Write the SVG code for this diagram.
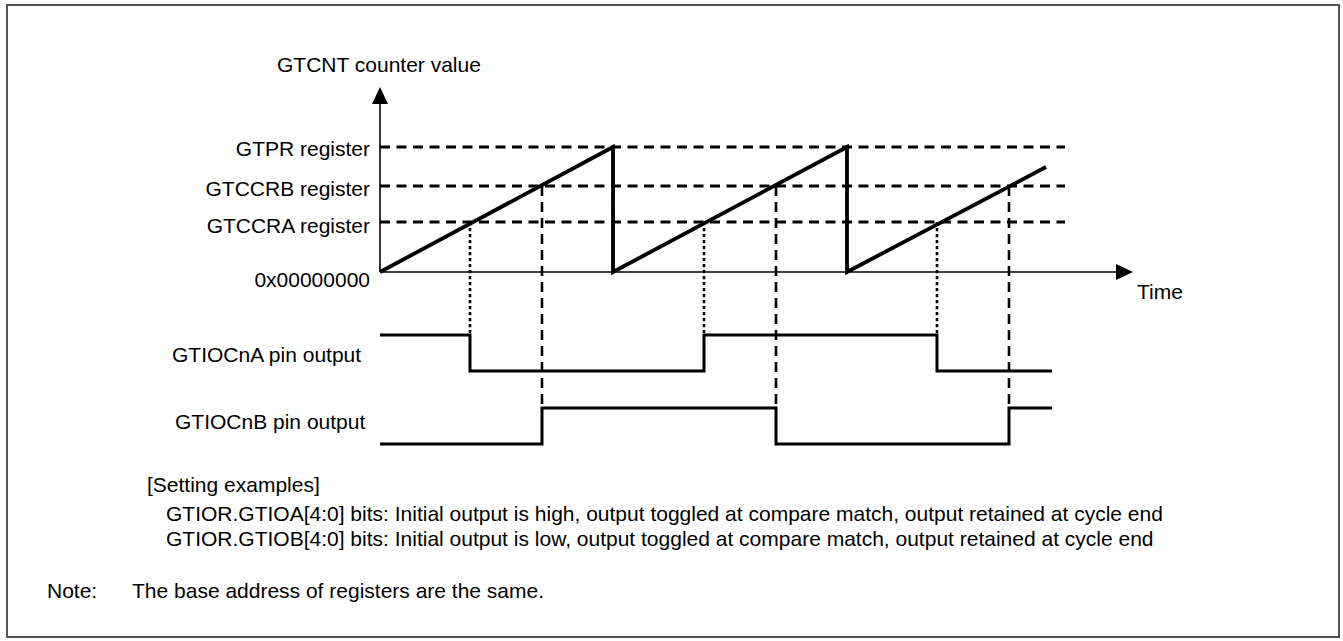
<svg xmlns="http://www.w3.org/2000/svg" width="1343" height="641" viewBox="0 0 1343 641">
<style>
text{font-family:"Liberation Sans",Arial,sans-serif;font-size:21px;fill:#000}
.r{text-anchor:end}
.ax{stroke:#000;stroke-width:1.6;fill:none}
.ref{stroke:#000;stroke-width:2.8;stroke-dasharray:10 6.5;fill:none}
.dot{stroke:#000;stroke-width:2.6;stroke-dasharray:3.3 2.7;fill:none}
.dsh{stroke:#000;stroke-width:2.6;stroke-dasharray:10 6;fill:none}
.wave{stroke:#000;stroke-width:3.8;fill:none;stroke-linejoin:miter}
.pin{stroke:#000;stroke-width:3;fill:none;stroke-linejoin:miter}
</style>
<rect x="7" y="5" width="1332" height="632" fill="#fff" stroke="#555" stroke-width="2"/>
<g id="axes">
<line class="ax" x1="380" y1="100" x2="380" y2="272"/>
<polygon points="380,87 372,104 388,104" fill="#000"/>
<line class="ax" x1="380" y1="272" x2="1120" y2="272"/>
<polygon points="1133,272 1116,264 1116,280" fill="#000"/>
<text x="277" y="72">GTCNT counter value</text>
<text x="1137" y="299">Time</text>
</g>
<g id="levels">
<line class="ref" x1="380" y1="147" x2="1065" y2="147"/>
<line class="ref" x1="380" y1="186" x2="1065" y2="186"/>
<line class="ref" x1="380" y1="222" x2="1065" y2="222"/>
<text class="r" x="370" y="156">GTPR register</text>
<text class="r" x="370" y="196">GTCCRB register</text>
<text class="r" x="370" y="233">GTCCRA register</text>
<text class="r" x="370" y="287">0x00000000</text>
</g>
<g id="connectors">
<line class="dot" x1="470" y1="222" x2="470" y2="335"/>
<line class="dot" x1="704" y1="222" x2="704" y2="335"/>
<line class="dot" x1="937" y1="222" x2="937" y2="335"/>
<line class="dsh" x1="542" y1="186" x2="542" y2="408"/>
<line class="dsh" x1="776" y1="186" x2="776" y2="408"/>
<line class="dsh" x1="1009" y1="186" x2="1009" y2="408"/>
</g>
<g id="counter">
<path class="wave" d="M380,272 L613,147 V272 L847,147 V272 L1046,167"/>
</g>
<g id="gtiocna">
<path class="pin" d="M380,335 H470 V371 H704 V335 H937 V371 H1052"/>
<text x="172" y="362">GTIOCnA pin output</text>
</g>
<g id="gtiocnb">
<path class="pin" d="M380,444 H542 V408 H776 V444 H1009 V408 H1052"/>
<text x="175" y="429">GTIOCnB pin output</text>
</g>
<g id="notes">
<text x="147" y="492">[Setting examples]</text>
<text x="166" y="521">GTIOR.GTIOA[4:0] bits: Initial output is high, output toggled at compare match, output retained at cycle end</text>
<text x="166" y="546">GTIOR.GTIOB[4:0] bits: Initial output is low, output toggled at compare match, output retained at cycle end</text>
<text x="47" y="598">Note:</text>
<text x="132" y="598">The base address of registers are the same.</text>
</g>
</svg>
